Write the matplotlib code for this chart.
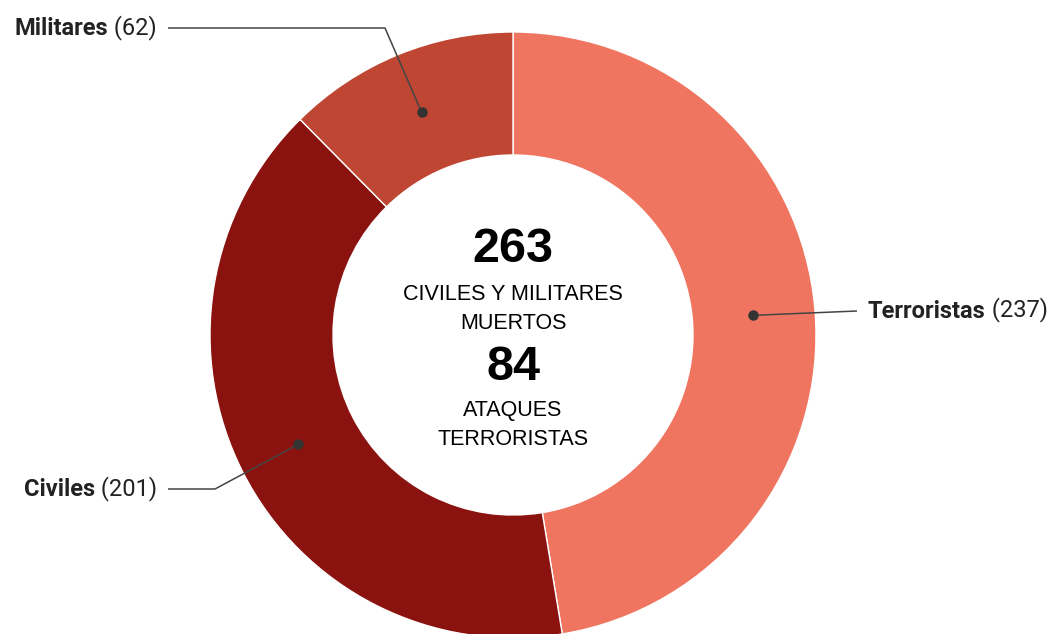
import matplotlib
matplotlib.use("Agg")
import matplotlib.pyplot as plt
import numpy as np

# data
labels = ["Terroristas", "Civiles", "Militares"]
values = [237, 201, 62]
colors = ["#F07560", "#8B130F", "#BE4632"]
center_big = ["263", "84"]
center_small = ["CIVILES Y MILITARES\nMUERTOS", "ATAQUES\nTERRORISTAS"]

W, H = 1053, 634
fig = plt.figure(figsize=(W / 100, H / 100), dpi=100)
ax = fig.add_axes([0, 0, 1, 1])
ax.set_xlim(0, W)
ax.set_ylim(0, H)
ax.set_aspect("equal")
ax.axis("off")

cx, cy = 513, H - 335
R, r_in = 303, 180

wedges, _ = ax.pie(values, colors=colors, startangle=90, counterclock=False,
                   radius=R, center=(cx, cy), frame=True,
                   wedgeprops=dict(width=R - r_in, edgecolor="white", linewidth=1))
ax.set_xlim(0, W)
ax.set_ylim(0, H)
ax.axis("off")

# center text
font_c = ["Liberation Sans", "DejaVu Sans"]
ax.text(cx, H - 250, center_big[0], ha="center", va="center", fontsize=35,
        fontweight="bold", family=font_c, color="black")
ax.text(cx, H - 309, center_small[0], ha="center", va="center", fontsize=15.5,
        family=font_c, color="black", linespacing=1.45)
ax.text(cx, H - 367, center_big[1], ha="center", va="center", fontsize=35,
        fontweight="bold", family=font_c, color="black")
ax.text(cx, H - 425, center_small[1], ha="center", va="center", fontsize=15.5,
        family=font_c, color="black", linespacing=1.45)

# leader lines and labels
line_col = "#444444"
txt_col = "#222222"
font_l = ["Roboto", "DejaVu Sans"]
fs_l = 17
# elbow point, line end, text side (pixel coords from top)
leaders = {
    "Terroristas": ((857, 311), (857, 311), "right"),
    "Civiles": ((215, 489), (168, 489), "left"),
    "Militares": ((385, 28), (168, 28), "left"),
}
for w, lab, v in zip(wedges, labels, values):
    ang = np.deg2rad((w.theta1 + w.theta2) / 2)
    px = cx + 0.795 * R * np.cos(ang)
    py = cy + 0.795 * R * np.sin(ang)
    (ex, ey), (tx, ty), side = leaders[lab]
    ax.plot([px, ex, tx], [py, H - ey, H - ty], color=line_col, lw=1.1,
            solid_capstyle="butt")
    ax.plot(px, py, "o", color="#333333", ms=6.5)
    if side == "right":
        t1 = ax.text(tx + 11, H - ty, lab, ha="left", va="center", fontsize=fs_l,
                     fontweight="bold", family=font_l, color=txt_col)
        ax.annotate(f" ({v})", xy=(1, 0), xycoords=t1, ha="left", va="bottom",
                    fontsize=fs_l, family=font_l, color=txt_col)
    else:
        t2 = ax.text(tx - 11, H - ty, f" ({v})", ha="right", va="center",
                     fontsize=fs_l, family=font_l, color=txt_col)
        ax.annotate(lab, xy=(0, 0), xycoords=t2, ha="right", va="bottom",
                    fontsize=fs_l, fontweight="bold", family=font_l, color=txt_col)

fig.savefig("out.png", dpi=100, facecolor="white")
